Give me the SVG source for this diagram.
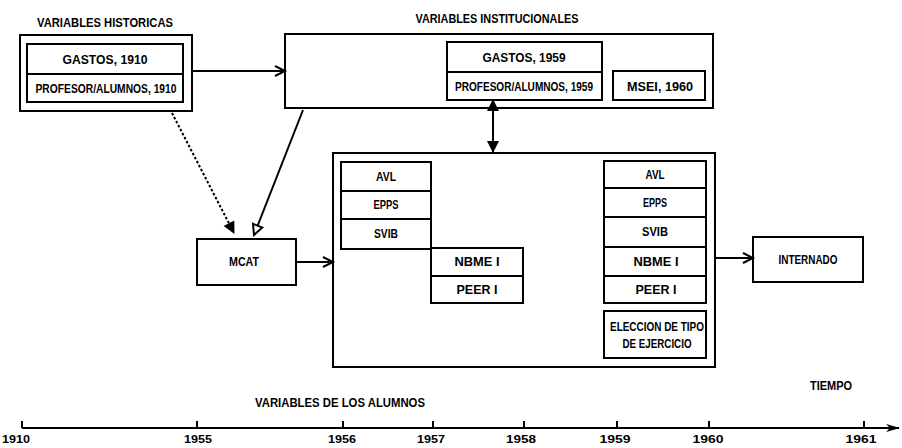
<svg xmlns="http://www.w3.org/2000/svg" width="902" height="448" viewBox="0 0 902 448">
<style>
.b{fill:#fff;stroke:#000;stroke-width:2}
.l{fill:none;stroke:#000;stroke-width:2}
.t{font-family:"Liberation Sans","DejaVu Sans",sans-serif;font-weight:bold;font-size:12px;text-anchor:middle;fill:#000}
.y{font-size:11px}
</style>
<defs>
<marker id="open" viewBox="0 0 12 12" refX="11" refY="6" markerWidth="12" markerHeight="12" markerUnits="userSpaceOnUse" orient="auto" overflow="visible">
<path d="M1,1 L11,6 L1,11" fill="none" stroke="#000" stroke-width="2"/>
</marker>
<marker id="fill" viewBox="0 0 12 12" refX="11" refY="6" markerWidth="12" markerHeight="12" markerUnits="userSpaceOnUse" orient="auto" overflow="visible">
<path d="M0,0 L12,6 L0,12 Z" fill="#000"/>
</marker>
<marker id="fillS" viewBox="0 0 12 12" refX="1" refY="6" markerWidth="12" markerHeight="12" markerUnits="userSpaceOnUse" orient="auto-start-reverse" overflow="visible">
<path d="M0,0 L12,6 L0,12 Z" fill="#000"/>
</marker>
<marker id="hollow" viewBox="0 0 12 12" refX="11" refY="6" markerWidth="12" markerHeight="12" markerUnits="userSpaceOnUse" orient="auto" overflow="visible">
<path d="M1,1 L11,6 L1,11 Z" fill="#fff" stroke="#000" stroke-width="2"/>
</marker>
<marker id="axis" viewBox="0 0 14 10" refX="13" refY="5" markerWidth="14" markerHeight="10" markerUnits="userSpaceOnUse" orient="auto" overflow="visible">
<path d="M0,1 L14,5 L0,9 L4,5 Z" fill="#000"/>
</marker>
</defs>
<rect width="902" height="448" fill="#fff"/>

<g id="historicas">
<text class="t" x="105" y="27" textLength="136" lengthAdjust="spacingAndGlyphs">VARIABLES HISTORICAS</text>
<rect class="b" x="20" y="35" width="172" height="76"/>
<rect class="b" x="27" y="44" width="156" height="58"/>
<line class="l" x1="27" y1="74" x2="183" y2="74"/>
<text class="t" x="105" y="64" textLength="85" lengthAdjust="spacingAndGlyphs">GASTOS, 1910</text>
<text class="t" x="106" y="93" textLength="141" lengthAdjust="spacingAndGlyphs">PROFESOR/ALUMNOS, 1910</text>
</g>

<g id="institucionales">
<text class="t" x="497" y="23" textLength="163" lengthAdjust="spacingAndGlyphs">VARIABLES INSTITUCIONALES</text>
<rect class="b" x="285" y="34" width="428" height="74"/>
<rect class="b" x="447" y="42" width="155" height="58"/>
<line class="l" x1="447" y1="72" x2="602" y2="72"/>
<text class="t" x="524" y="62" textLength="83" lengthAdjust="spacingAndGlyphs">GASTOS, 1959</text>
<text class="t" x="524" y="91" textLength="138" lengthAdjust="spacingAndGlyphs">PROFESOR/ALUMNOS, 1959</text>
<rect class="b" x="613" y="71" width="92" height="29"/>
<text class="t" x="660" y="91" textLength="66" lengthAdjust="spacingAndGlyphs">MSEI, 1960</text>
</g>

<g id="mcat">
<rect class="b" x="197" y="239" width="99" height="46"/>
<text class="t" x="244" y="266" textLength="30" lengthAdjust="spacingAndGlyphs">MCAT</text>
</g>

<g id="alumnos">
<rect class="b" x="333" y="153" width="382" height="214"/>
<rect class="b" x="341" y="162" width="90" height="87"/>
<line class="l" x1="341" y1="191" x2="431" y2="191"/>
<line class="l" x1="341" y1="219" x2="431" y2="219"/>
<text class="t" x="386" y="181" textLength="20" lengthAdjust="spacingAndGlyphs">AVL</text>
<text class="t" x="386" y="209" textLength="25" lengthAdjust="spacingAndGlyphs">EPPS</text>
<text class="t" x="386" y="238" textLength="24" lengthAdjust="spacingAndGlyphs">SVIB</text>
<rect class="b" x="431" y="248" width="92" height="55"/>
<line class="l" x1="431" y1="276" x2="523" y2="276"/>
<text class="t" x="477" y="266" textLength="45" lengthAdjust="spacingAndGlyphs">NBME I</text>
<text class="t" x="477" y="294" textLength="41" lengthAdjust="spacingAndGlyphs">PEER I</text>
<rect class="b" x="604" y="161" width="102" height="142"/>
<line class="l" x1="604" y1="188" x2="706" y2="188"/>
<line class="l" x1="604" y1="217" x2="706" y2="217"/>
<line class="l" x1="604" y1="247" x2="706" y2="247"/>
<line class="l" x1="604" y1="276" x2="706" y2="276"/>
<text class="t" x="655" y="179" textLength="19" lengthAdjust="spacingAndGlyphs">AVL</text>
<text class="t" x="655" y="207" textLength="24" lengthAdjust="spacingAndGlyphs">EPPS</text>
<text class="t" x="655" y="236" textLength="26" lengthAdjust="spacingAndGlyphs">SVIB</text>
<text class="t" x="656" y="266" textLength="45" lengthAdjust="spacingAndGlyphs">NBME I</text>
<text class="t" x="656" y="294" textLength="41" lengthAdjust="spacingAndGlyphs">PEER I</text>
<rect class="b" x="604" y="311" width="102" height="47"/>
<text class="t" x="657" y="331" textLength="94" lengthAdjust="spacingAndGlyphs">ELECCION DE TIPO</text>
<text class="t" x="657" y="348" textLength="69" lengthAdjust="spacingAndGlyphs">DE EJERCICIO</text>
</g>

<g id="internado">
<rect class="b" x="753" y="237" width="110" height="45"/>
<text class="t" x="808" y="264" textLength="59" lengthAdjust="spacingAndGlyphs">INTERNADO</text>
</g>

<g id="connectors">
<line class="l" x1="192" y1="71" x2="285" y2="71" marker-end="url(#open)"/>
<line class="l" x1="172" y1="113" x2="234" y2="233" stroke-dasharray="2.5,2" stroke-width="2.5" marker-end="url(#fill)"/>
<line class="l" x1="303" y1="110" x2="254" y2="235" marker-end="url(#hollow)"/>
<line class="l" x1="493" y1="110" x2="493" y2="152" marker-start="url(#fillS)" marker-end="url(#fill)"/>
<line class="l" x1="296" y1="262" x2="333" y2="262" marker-end="url(#open)"/>
<line class="l" x1="715" y1="258" x2="753" y2="258" marker-end="url(#open)"/>
</g>

<g id="timeline">
<text class="t" x="340" y="407" textLength="170" lengthAdjust="spacingAndGlyphs">VARIABLES DE LOS ALUMNOS</text>
<text class="t" x="831" y="390" textLength="42" lengthAdjust="spacingAndGlyphs">TIEMPO</text>
<line class="l" x1="22" y1="428" x2="899" y2="428" marker-end="url(#axis)"/>
<path class="l" d="M22,421V428M197,421V428M343,421V428M433,421V428M524,421V428M617,421V428M709,421V428M864,421V428"/>
<text class="t y" x="16" y="443" textLength="28" lengthAdjust="spacingAndGlyphs">1910</text>
<text class="t y" x="198" y="443" textLength="28" lengthAdjust="spacingAndGlyphs">1955</text>
<text class="t y" x="342" y="443" textLength="28" lengthAdjust="spacingAndGlyphs">1956</text>
<text class="t y" x="431" y="443" textLength="28" lengthAdjust="spacingAndGlyphs">1957</text>
<text class="t y" x="521" y="443" textLength="30" lengthAdjust="spacingAndGlyphs">1958</text>
<text class="t y" x="615" y="443" textLength="31" lengthAdjust="spacingAndGlyphs">1959</text>
<text class="t y" x="708" y="443" textLength="31" lengthAdjust="spacingAndGlyphs">1960</text>
<text class="t y" x="861" y="443" textLength="31" lengthAdjust="spacingAndGlyphs">1961</text>
</g>
</svg>
